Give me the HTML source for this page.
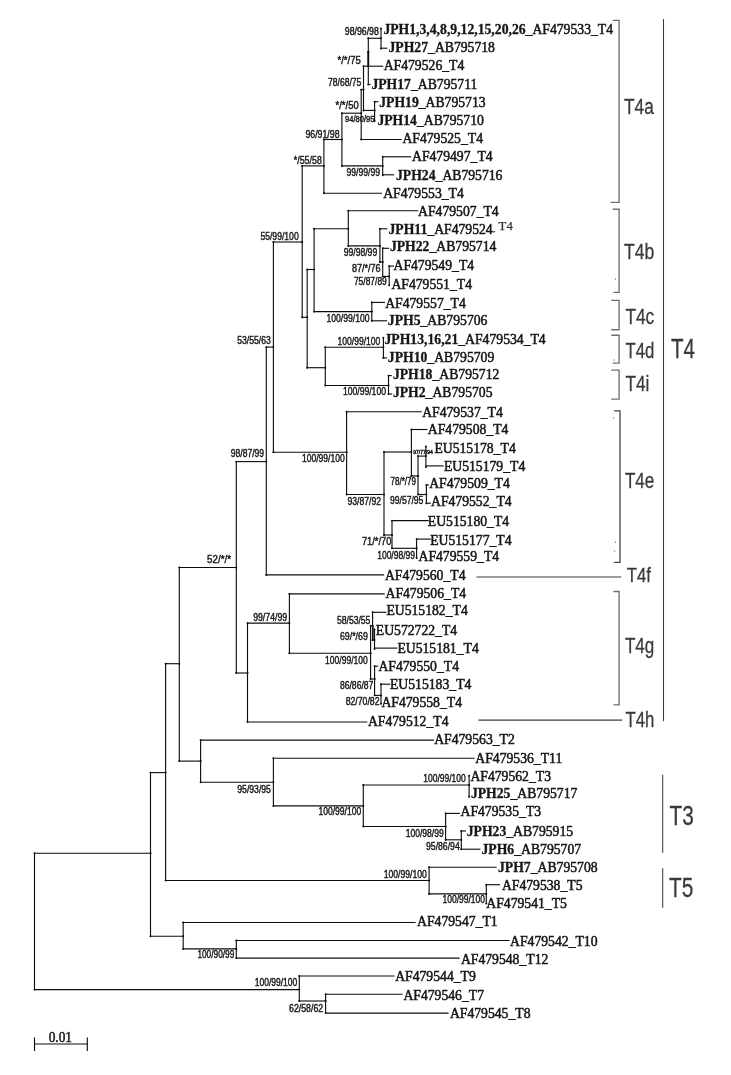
<!DOCTYPE html>
<html><head><meta charset="utf-8"><title>Phylogenetic tree</title>
<style>
html,body{margin:0;padding:0;background:#fff;overflow:hidden;}
svg{display:block;font-family:"Liberation Serif",serif;filter:grayscale(1);}
svg path{fill:none;stroke-linecap:square;}
svg text{stroke:#161616;stroke-width:0.5px;}
svg text tspan{stroke-width:0.3px;}
.b{font-family:"Liberation Sans",sans-serif;fill:#161616;stroke:#161616;stroke-width:0.4px;}
.c{font-family:"Liberation Sans",sans-serif;fill:#3a3a3a;stroke:#3a3a3a;stroke-width:0.3px;}
</style></head><body>
<svg width="731" height="1075" viewBox="0 0 731 1075">
<rect width="731" height="1075" fill="#fff"/>
<text x="383.4" y="34.1" font-size="13.7" fill="#161616"><tspan font-weight="bold">JPH1,3,4,8,9,12,15,20,26</tspan>_AF479533_T4</text>
<path d="M381.0 48.2H386.8" stroke="#0c0c0c" stroke-width="1.12"/>
<text x="388.5" y="52.1" font-size="13.7" fill="#161616"><tspan font-weight="bold">JPH27</tspan>_AB795718</text>
<path d="M363.5 66.2H382.7" stroke="#0c0c0c" stroke-width="1.12"/>
<text x="383.7" y="70.3" font-size="13.7" fill="#161616">AF479526_T4</text>
<path d="M368.3 84.4H370.0" stroke="#0c0c0c" stroke-width="1.12"/>
<text x="371.4" y="88.8" font-size="13.7" fill="#161616"><tspan font-weight="bold">JPH17</tspan>_AB795711</text>
<path d="M374.6 101.7H377.9" stroke="#0c0c0c" stroke-width="1.12"/>
<text x="379.2" y="107.1" font-size="13.7" fill="#161616"><tspan font-weight="bold">JPH19</tspan>_AB795713</text>
<text x="377.4" y="124.5" font-size="13.7" fill="#161616"><tspan font-weight="bold">JPH14</tspan>_AB795710</text>
<path d="M361.2 139.5H401.1" stroke="#0c0c0c" stroke-width="1.12"/>
<text x="402.4" y="142.7" font-size="13.7" fill="#161616">AF479525_T4</text>
<path d="M382.7 156.8H410.7" stroke="#0c0c0c" stroke-width="1.12"/>
<text x="412.0" y="161.1" font-size="13.7" fill="#161616">AF479497_T4</text>
<path d="M382.7 174.8H393.6" stroke="#0c0c0c" stroke-width="1.12"/>
<text x="396.0" y="180.1" font-size="13.7" fill="#161616"><tspan font-weight="bold">JPH24</tspan>_AB795716</text>
<path d="M323.9 193.2H381.4" stroke="#0c0c0c" stroke-width="1.12"/>
<text x="383.2" y="197.7" font-size="13.7" fill="#161616">AF479553_T4</text>
<path d="M348.3 210.7H417.6" stroke="#0c0c0c" stroke-width="1.12"/>
<text x="418.09999999999997" y="216.1" font-size="13.7" fill="#161616">AF479507_T4</text>
<path d="M379.9 228.8H386.8" stroke="#0c0c0c" stroke-width="1.12"/>
<text x="388.5" y="234.3" font-size="13.7" fill="#161616"><tspan font-weight="bold">JPH11</tspan>_AF479524</text>
<path d="M382.7 248.3H388.5" stroke="#0c0c0c" stroke-width="1.12"/>
<text x="389.9" y="251.3" font-size="13.7" fill="#161616"><tspan font-weight="bold">JPH22</tspan>_AB795714</text>
<path d="M389.2 266.1H393.6" stroke="#0c0c0c" stroke-width="1.12"/>
<text x="393.5" y="269.9" font-size="13.7" fill="#161616">AF479549_T4</text>
<text x="391.4" y="289.4" font-size="13.7" fill="#161616">AF479551_T4</text>
<path d="M371.8 302.4H384.4" stroke="#0c0c0c" stroke-width="1.12"/>
<text x="385.2" y="308.0" font-size="13.7" fill="#161616">AF479557_T4</text>
<path d="M371.8 320.8H386.5" stroke="#0c0c0c" stroke-width="1.12"/>
<text x="387.8" y="325.3" font-size="13.7" fill="#161616"><tspan font-weight="bold">JPH5</tspan>_AB795706</text>
<text x="384.5" y="343.6" font-size="13.7" fill="#161616"><tspan font-weight="bold">JPH13,16,21</tspan>_AF479534_T4</text>
<path d="M383.4 357.9H386.5" stroke="#0c0c0c" stroke-width="1.12"/>
<text x="387.8" y="361.7" font-size="13.7" fill="#161616"><tspan font-weight="bold">JPH10</tspan>_AB795709</text>
<path d="M388.5 375.6H391.2" stroke="#0c0c0c" stroke-width="1.12"/>
<text x="392.9" y="378.5" font-size="13.7" fill="#161616"><tspan font-weight="bold">JPH18</tspan>_AB795712</text>
<path d="M388.5 394.0H391.6" stroke="#0c0c0c" stroke-width="1.12"/>
<text x="392.9" y="397.3" font-size="13.7" fill="#161616"><tspan font-weight="bold">JPH2</tspan>_AB795705</text>
<path d="M346.6 411.7H421.2" stroke="#0c0c0c" stroke-width="1.12"/>
<text x="422.2" y="417.3" font-size="13.7" fill="#161616">AF479537_T4</text>
<path d="M411.4 429.5H426.9" stroke="#0c0c0c" stroke-width="1.12"/>
<text x="427.8" y="434.1" font-size="13.7" fill="#161616">AF479508_T4</text>
<text x="434.4" y="452.7" font-size="13.7" fill="#161616">EU515178_T4</text>
<path d="M425.9 465.9H443.1" stroke="#0c0c0c" stroke-width="1.12"/>
<text x="443.9" y="470.8" font-size="13.7" fill="#161616">EU515179_T4</text>
<path d="M426.4 485.0H428.4" stroke="#0c0c0c" stroke-width="1.12"/>
<text x="429.2" y="488.0" font-size="13.7" fill="#161616">AF479509_T4</text>
<path d="M426.4 503.2H430.3" stroke="#0c0c0c" stroke-width="1.12"/>
<text x="431.0" y="506.2" font-size="13.7" fill="#161616">AF479552_T4</text>
<path d="M392.0 520.6H428.2" stroke="#0c0c0c" stroke-width="1.12"/>
<text x="427.8" y="526.4" font-size="13.7" fill="#161616">EU515180_T4</text>
<path d="M416.6 539.1H430.3" stroke="#0c0c0c" stroke-width="1.12"/>
<text x="430.2" y="544.5" font-size="13.7" fill="#161616">EU515177_T4</text>
<text x="418.5" y="561.4" font-size="13.7" fill="#161616">AF479559_T4</text>
<path d="M266.3 574.9H383.6" stroke="#0c0c0c" stroke-width="1.12"/>
<text x="384.9" y="580.1" font-size="13.7" fill="#161616">AF479560_T4</text>
<path d="M289.4 593.9H384.2" stroke="#0c0c0c" stroke-width="1.12"/>
<text x="385.5" y="598.2" font-size="13.7" fill="#161616">AF479506_T4</text>
<path d="M372.6 612.3H385.8" stroke="#0c0c0c" stroke-width="1.12"/>
<text x="386.4" y="615.4" font-size="13.7" fill="#161616">EU515182_T4</text>
<text x="375.8" y="635.0" font-size="13.7" fill="#161616">EU572722_T4</text>
<path d="M374.5 648.1H396.8" stroke="#0c0c0c" stroke-width="1.12"/>
<text x="397.4" y="653.1" font-size="13.7" fill="#161616">EU515181_T4</text>
<path d="M374.6 666.2H377.6" stroke="#0c0c0c" stroke-width="1.12"/>
<text x="378.4" y="670.8" font-size="13.7" fill="#161616">AF479550_T4</text>
<path d="M381.0 684.2H389.8" stroke="#0c0c0c" stroke-width="1.12"/>
<text x="390.0" y="689.0" font-size="13.7" fill="#161616">EU515183_T4</text>
<text x="381.4" y="707.3" font-size="13.7" fill="#161616">AF479558_T4</text>
<path d="M247.5 722.0H366.7" stroke="#0c0c0c" stroke-width="1.12"/>
<text x="367.9" y="725.6" font-size="13.7" fill="#161616">AF479512_T4</text>
<path d="M200.6 740.1H433.5" stroke="#0c0c0c" stroke-width="1.12"/>
<text x="434.2" y="744.2" font-size="13.7" fill="#161616">AF479563_T2</text>
<path d="M273.4 758.3H474.0" stroke="#0c0c0c" stroke-width="1.12"/>
<text x="475.3" y="762.6" font-size="13.7" fill="#161616">AF479536_T11</text>
<text x="470.4" y="780.6" font-size="13.7" fill="#161616">AF479562_T3</text>
<text x="470.9" y="798.0" font-size="13.7" fill="#161616"><tspan font-weight="bold">JPH25</tspan>_AB795717</text>
<path d="M445.6 813.4H459.3" stroke="#0c0c0c" stroke-width="1.12"/>
<text x="460.5" y="816.4" font-size="13.7" fill="#161616">AF479535_T3</text>
<path d="M461.3 831.0H465.4" stroke="#0c0c0c" stroke-width="1.12"/>
<text x="466.7" y="835.9" font-size="13.7" fill="#161616"><tspan font-weight="bold">JPH23</tspan>_AB795915</text>
<path d="M461.3 849.2H479.8" stroke="#0c0c0c" stroke-width="1.12"/>
<text x="481.5" y="854.4" font-size="13.7" fill="#161616"><tspan font-weight="bold">JPH6</tspan>_AB795707</text>
<path d="M429.1 867.2H496.0" stroke="#0c0c0c" stroke-width="1.12"/>
<text x="498.0" y="871.8" font-size="13.7" fill="#161616"><tspan font-weight="bold">JPH7</tspan>_AB795708</text>
<path d="M486.3 884.7H499.4" stroke="#0c0c0c" stroke-width="1.12"/>
<text x="501.9" y="890.2" font-size="13.7" fill="#161616">AF479538_T5</text>
<text x="486.3" y="908.4" font-size="13.7" fill="#161616">AF479541_T5</text>
<path d="M183.2 922.5H415.1" stroke="#0c0c0c" stroke-width="1.12"/>
<text x="417.09999999999997" y="925.9" font-size="13.7" fill="#161616">AF479547_T1</text>
<path d="M236.3 940.5H509.0" stroke="#0c0c0c" stroke-width="1.12"/>
<text x="510.09999999999997" y="945.7" font-size="13.7" fill="#161616">AF479542_T10</text>
<path d="M236.3 958.1H459.0" stroke="#0c0c0c" stroke-width="1.12"/>
<text x="460.9" y="963.8" font-size="13.7" fill="#161616">AF479548_T12</text>
<path d="M299.3 976.0H394.0" stroke="#0c0c0c" stroke-width="1.12"/>
<text x="395.2" y="981.0" font-size="13.7" fill="#161616">AF479544_T9</text>
<path d="M325.6 994.2H402.0" stroke="#0c0c0c" stroke-width="1.12"/>
<text x="403.4" y="999.6" font-size="13.7" fill="#161616">AF479546_T7</text>
<path d="M325.6 1013.1H448.0" stroke="#0c0c0c" stroke-width="1.12"/>
<text x="449.9" y="1017.8" font-size="13.7" fill="#161616">AF479545_T8</text>
<text x="498.6" y="230.1" font-size="12.8" fill="#303030" style="stroke:#303030;stroke-width:0.25px">T4</text>
<path d="M490.8 231.8H494.8" stroke="#333" stroke-width="1.0"/>
<path d="M381.0 28.5V48.6" stroke="#0c0c0c" stroke-width="1.12"/>
<path d="M368.3 38.3H381.0" stroke="#0c0c0c" stroke-width="1.12"/>
<circle cx="381" cy="38.3" r="1.0" fill="#0c0c0c"/>
<circle cx="381" cy="48.6" r="0.95" fill="#0c0c0c"/>
<circle cx="381" cy="28.5" r="0.95" fill="#0c0c0c"/>
<path d="M368.3 38.3V84.6" stroke="#0c0c0c" stroke-width="1.12"/>
<circle cx="368.3" cy="84.6" r="0.95" fill="#0c0c0c"/>
<circle cx="368.3" cy="38.3" r="0.95" fill="#0c0c0c"/>
<path d="M363.5 66.2V110.6" stroke="#0c0c0c" stroke-width="1.12"/>
<path d="M361.2 89.6H363.5" stroke="#0c0c0c" stroke-width="1.12"/>
<circle cx="363.5" cy="89.6" r="1.0" fill="#0c0c0c"/>
<circle cx="363.5" cy="110.6" r="0.95" fill="#0c0c0c"/>
<circle cx="363.5" cy="66.2" r="0.95" fill="#0c0c0c"/>
<path d="M374.6 101.7V121.0" stroke="#0c0c0c" stroke-width="1.12"/>
<path d="M363.5 110.4H374.6" stroke="#0c0c0c" stroke-width="1.12"/>
<circle cx="374.6" cy="110.4" r="1.0" fill="#0c0c0c"/>
<circle cx="374.6" cy="121.0" r="0.95" fill="#0c0c0c"/>
<circle cx="374.6" cy="101.7" r="0.95" fill="#0c0c0c"/>
<path d="M361.2 89.6V139.5" stroke="#0c0c0c" stroke-width="1.12"/>
<path d="M341.9 113.2H361.2" stroke="#0c0c0c" stroke-width="1.12"/>
<circle cx="361.2" cy="113.2" r="1.0" fill="#0c0c0c"/>
<circle cx="361.2" cy="139.5" r="0.95" fill="#0c0c0c"/>
<circle cx="361.2" cy="89.6" r="0.95" fill="#0c0c0c"/>
<path d="M382.7 156.8V175.3" stroke="#0c0c0c" stroke-width="1.12"/>
<path d="M341.9 165.9H382.7" stroke="#0c0c0c" stroke-width="1.12"/>
<circle cx="382.7" cy="165.9" r="1.0" fill="#0c0c0c"/>
<circle cx="382.7" cy="175.3" r="0.95" fill="#0c0c0c"/>
<circle cx="382.7" cy="156.8" r="0.95" fill="#0c0c0c"/>
<path d="M341.9 113.2V165.9" stroke="#0c0c0c" stroke-width="1.12"/>
<path d="M323.9 139.5H341.9" stroke="#0c0c0c" stroke-width="1.12"/>
<circle cx="341.9" cy="139.5" r="1.0" fill="#0c0c0c"/>
<circle cx="341.9" cy="165.9" r="0.95" fill="#0c0c0c"/>
<circle cx="341.9" cy="113.2" r="0.95" fill="#0c0c0c"/>
<path d="M323.9 139.5V193.2" stroke="#0c0c0c" stroke-width="1.12"/>
<path d="M302.2 165.9H323.9" stroke="#0c0c0c" stroke-width="1.12"/>
<circle cx="323.9" cy="165.9" r="1.0" fill="#0c0c0c"/>
<circle cx="323.9" cy="193.2" r="0.95" fill="#0c0c0c"/>
<circle cx="323.9" cy="139.5" r="0.95" fill="#0c0c0c"/>
<path d="M389.2 266.1V285.3" stroke="#0c0c0c" stroke-width="1.12"/>
<path d="M382.7 276.4H389.2" stroke="#0c0c0c" stroke-width="1.12"/>
<circle cx="389.2" cy="276.4" r="1.0" fill="#0c0c0c"/>
<circle cx="389.2" cy="285.3" r="0.95" fill="#0c0c0c"/>
<circle cx="389.2" cy="266.1" r="0.95" fill="#0c0c0c"/>
<path d="M382.7 248.3V276.4" stroke="#0c0c0c" stroke-width="1.12"/>
<path d="M379.9 262.0H382.7" stroke="#0c0c0c" stroke-width="1.12"/>
<circle cx="382.7" cy="262.0" r="1.0" fill="#0c0c0c"/>
<circle cx="382.7" cy="276.4" r="0.95" fill="#0c0c0c"/>
<circle cx="382.7" cy="248.3" r="0.95" fill="#0c0c0c"/>
<path d="M379.9 228.8V262.0" stroke="#0c0c0c" stroke-width="1.12"/>
<path d="M348.3 245.9H379.9" stroke="#0c0c0c" stroke-width="1.12"/>
<circle cx="379.9" cy="245.9" r="1.0" fill="#0c0c0c"/>
<circle cx="379.9" cy="262.0" r="0.95" fill="#0c0c0c"/>
<circle cx="379.9" cy="228.8" r="0.95" fill="#0c0c0c"/>
<path d="M348.3 210.7V245.9" stroke="#0c0c0c" stroke-width="1.12"/>
<path d="M314.1 228.8H348.3" stroke="#0c0c0c" stroke-width="1.12"/>
<circle cx="348.3" cy="228.8" r="1.0" fill="#0c0c0c"/>
<circle cx="348.3" cy="245.9" r="0.95" fill="#0c0c0c"/>
<circle cx="348.3" cy="210.7" r="0.95" fill="#0c0c0c"/>
<path d="M371.8 302.4V320.8" stroke="#0c0c0c" stroke-width="1.12"/>
<path d="M314.1 311.6H371.8" stroke="#0c0c0c" stroke-width="1.12"/>
<circle cx="371.8" cy="311.6" r="1.0" fill="#0c0c0c"/>
<circle cx="371.8" cy="320.8" r="0.95" fill="#0c0c0c"/>
<circle cx="371.8" cy="302.4" r="0.95" fill="#0c0c0c"/>
<path d="M314.1 228.8V311.6" stroke="#0c0c0c" stroke-width="1.12"/>
<path d="M307.2 269.5H314.1" stroke="#0c0c0c" stroke-width="1.12"/>
<circle cx="314.1" cy="269.5" r="1.0" fill="#0c0c0c"/>
<circle cx="314.1" cy="311.6" r="0.95" fill="#0c0c0c"/>
<circle cx="314.1" cy="228.8" r="0.95" fill="#0c0c0c"/>
<path d="M383.4 337.7V357.9" stroke="#0c0c0c" stroke-width="1.12"/>
<path d="M325.3 347.2H383.4" stroke="#0c0c0c" stroke-width="1.12"/>
<circle cx="383.4" cy="347.2" r="1.0" fill="#0c0c0c"/>
<circle cx="383.4" cy="357.9" r="0.95" fill="#0c0c0c"/>
<circle cx="383.4" cy="337.7" r="0.95" fill="#0c0c0c"/>
<path d="M388.5 375.6V394.0" stroke="#0c0c0c" stroke-width="1.12"/>
<path d="M325.3 385.5H388.5" stroke="#0c0c0c" stroke-width="1.12"/>
<circle cx="388.5" cy="385.5" r="1.0" fill="#0c0c0c"/>
<circle cx="388.5" cy="394.0" r="0.95" fill="#0c0c0c"/>
<circle cx="388.5" cy="375.6" r="0.95" fill="#0c0c0c"/>
<path d="M325.3 347.2V385.5" stroke="#0c0c0c" stroke-width="1.12"/>
<path d="M307.2 367.7H325.3" stroke="#0c0c0c" stroke-width="1.12"/>
<circle cx="325.3" cy="367.7" r="1.0" fill="#0c0c0c"/>
<circle cx="325.3" cy="385.5" r="0.95" fill="#0c0c0c"/>
<circle cx="325.3" cy="347.2" r="0.95" fill="#0c0c0c"/>
<path d="M307.2 269.5V367.7" stroke="#0c0c0c" stroke-width="1.12"/>
<path d="M302.2 317.3H307.2" stroke="#0c0c0c" stroke-width="1.12"/>
<circle cx="307.2" cy="317.3" r="1.0" fill="#0c0c0c"/>
<circle cx="307.2" cy="367.7" r="0.95" fill="#0c0c0c"/>
<circle cx="307.2" cy="269.5" r="0.95" fill="#0c0c0c"/>
<path d="M302.2 165.9V317.3" stroke="#0c0c0c" stroke-width="1.12"/>
<path d="M273.4 242.0H302.2" stroke="#0c0c0c" stroke-width="1.12"/>
<circle cx="302.2" cy="242.0" r="1.0" fill="#0c0c0c"/>
<circle cx="302.2" cy="317.3" r="0.95" fill="#0c0c0c"/>
<circle cx="302.2" cy="165.9" r="0.95" fill="#0c0c0c"/>
<path d="M425.9 446.5V467.0" stroke="#0c0c0c" stroke-width="1.12"/>
<path d="M418.0 456.1H425.9" stroke="#0c0c0c" stroke-width="1.12"/>
<circle cx="425.9" cy="456.1" r="1.0" fill="#0c0c0c"/>
<circle cx="425.9" cy="467.0" r="0.95" fill="#0c0c0c"/>
<circle cx="425.9" cy="446.5" r="0.95" fill="#0c0c0c"/>
<path d="M426.4 485.0V503.4" stroke="#0c0c0c" stroke-width="1.12"/>
<path d="M418.0 494.5H426.4" stroke="#0c0c0c" stroke-width="1.12"/>
<circle cx="426.4" cy="494.5" r="1.0" fill="#0c0c0c"/>
<circle cx="426.4" cy="503.4" r="0.95" fill="#0c0c0c"/>
<circle cx="426.4" cy="485.0" r="0.95" fill="#0c0c0c"/>
<path d="M418.0 456.1V494.5" stroke="#0c0c0c" stroke-width="1.12"/>
<path d="M411.4 475.9H418.0" stroke="#0c0c0c" stroke-width="1.12"/>
<circle cx="418" cy="475.9" r="1.0" fill="#0c0c0c"/>
<circle cx="418" cy="494.5" r="0.95" fill="#0c0c0c"/>
<circle cx="418" cy="456.1" r="0.95" fill="#0c0c0c"/>
<path d="M411.4 429.5V475.9" stroke="#0c0c0c" stroke-width="1.12"/>
<path d="M384.0 452.0H411.4" stroke="#0c0c0c" stroke-width="1.12"/>
<circle cx="411.4" cy="452.0" r="1.0" fill="#0c0c0c"/>
<circle cx="411.4" cy="475.9" r="0.95" fill="#0c0c0c"/>
<circle cx="411.4" cy="429.5" r="0.95" fill="#0c0c0c"/>
<path d="M416.6 539.1V558.0" stroke="#0c0c0c" stroke-width="1.12"/>
<path d="M392.0 548.3H416.6" stroke="#0c0c0c" stroke-width="1.12"/>
<circle cx="416.6" cy="548.3" r="1.0" fill="#0c0c0c"/>
<circle cx="416.6" cy="558.0" r="0.95" fill="#0c0c0c"/>
<circle cx="416.6" cy="539.1" r="0.95" fill="#0c0c0c"/>
<path d="M392.0 520.6V548.3" stroke="#0c0c0c" stroke-width="1.12"/>
<path d="M384.0 535.0H392.0" stroke="#0c0c0c" stroke-width="1.12"/>
<circle cx="392" cy="535.0" r="1.0" fill="#0c0c0c"/>
<circle cx="392" cy="548.3" r="0.95" fill="#0c0c0c"/>
<circle cx="392" cy="520.6" r="0.95" fill="#0c0c0c"/>
<path d="M384.0 452.0V535.0" stroke="#0c0c0c" stroke-width="1.12"/>
<path d="M346.6 494.5H384.0" stroke="#0c0c0c" stroke-width="1.12"/>
<circle cx="384" cy="494.5" r="1.0" fill="#0c0c0c"/>
<circle cx="384" cy="535.0" r="0.95" fill="#0c0c0c"/>
<circle cx="384" cy="452.0" r="0.95" fill="#0c0c0c"/>
<path d="M346.6 411.7V494.5" stroke="#0c0c0c" stroke-width="1.12"/>
<path d="M273.4 452.3H346.6" stroke="#0c0c0c" stroke-width="1.12"/>
<circle cx="346.6" cy="452.3" r="1.0" fill="#0c0c0c"/>
<circle cx="346.6" cy="494.5" r="0.95" fill="#0c0c0c"/>
<circle cx="346.6" cy="411.7" r="0.95" fill="#0c0c0c"/>
<path d="M273.4 242.0V452.3" stroke="#0c0c0c" stroke-width="1.12"/>
<path d="M266.3 347.1H273.4" stroke="#0c0c0c" stroke-width="1.12"/>
<circle cx="273.4" cy="347.1" r="1.0" fill="#0c0c0c"/>
<circle cx="273.4" cy="452.3" r="0.95" fill="#0c0c0c"/>
<circle cx="273.4" cy="242.0" r="0.95" fill="#0c0c0c"/>
<path d="M266.3 347.1V574.9" stroke="#0c0c0c" stroke-width="1.12"/>
<path d="M236.3 461.6H266.3" stroke="#0c0c0c" stroke-width="1.12"/>
<circle cx="266.3" cy="461.6" r="1.0" fill="#0c0c0c"/>
<circle cx="266.3" cy="574.9" r="0.95" fill="#0c0c0c"/>
<circle cx="266.3" cy="347.1" r="0.95" fill="#0c0c0c"/>
<path d="M374.5 629.5V649.0" stroke="#0c0c0c" stroke-width="1.12"/>
<path d="M372.6 640.0H374.5" stroke="#0c0c0c" stroke-width="1.12"/>
<circle cx="374.5" cy="640.0" r="1.0" fill="#0c0c0c"/>
<circle cx="374.5" cy="649.0" r="0.95" fill="#0c0c0c"/>
<circle cx="374.5" cy="629.5" r="0.95" fill="#0c0c0c"/>
<path d="M372.6 612.3V640.0" stroke="#0c0c0c" stroke-width="1.12"/>
<path d="M370.6 625.7H372.6" stroke="#0c0c0c" stroke-width="1.12"/>
<circle cx="372.6" cy="625.7" r="1.0" fill="#0c0c0c"/>
<circle cx="372.6" cy="640.0" r="0.95" fill="#0c0c0c"/>
<circle cx="372.6" cy="612.3" r="0.95" fill="#0c0c0c"/>
<path d="M381.0 684.2V703.8" stroke="#0c0c0c" stroke-width="1.12"/>
<path d="M374.6 695.4H381.0" stroke="#0c0c0c" stroke-width="1.12"/>
<circle cx="381" cy="695.4" r="1.0" fill="#0c0c0c"/>
<circle cx="381" cy="703.8" r="0.95" fill="#0c0c0c"/>
<circle cx="381" cy="684.2" r="0.95" fill="#0c0c0c"/>
<path d="M374.6 666.2V695.4" stroke="#0c0c0c" stroke-width="1.12"/>
<path d="M370.6 679.0H374.6" stroke="#0c0c0c" stroke-width="1.12"/>
<circle cx="374.6" cy="679.0" r="1.0" fill="#0c0c0c"/>
<circle cx="374.6" cy="695.4" r="0.95" fill="#0c0c0c"/>
<circle cx="374.6" cy="666.2" r="0.95" fill="#0c0c0c"/>
<path d="M370.6 625.7V679.0" stroke="#0c0c0c" stroke-width="1.12"/>
<path d="M289.4 653.3H370.6" stroke="#0c0c0c" stroke-width="1.12"/>
<circle cx="370.6" cy="653.3" r="1.0" fill="#0c0c0c"/>
<circle cx="370.6" cy="679.0" r="0.95" fill="#0c0c0c"/>
<circle cx="370.6" cy="625.7" r="0.95" fill="#0c0c0c"/>
<path d="M289.4 593.9V653.3" stroke="#0c0c0c" stroke-width="1.12"/>
<path d="M247.5 623.1H289.4" stroke="#0c0c0c" stroke-width="1.12"/>
<circle cx="289.4" cy="623.1" r="1.0" fill="#0c0c0c"/>
<circle cx="289.4" cy="653.3" r="0.95" fill="#0c0c0c"/>
<circle cx="289.4" cy="593.9" r="0.95" fill="#0c0c0c"/>
<path d="M247.5 623.1V722.0" stroke="#0c0c0c" stroke-width="1.12"/>
<path d="M236.3 673.0H247.5" stroke="#0c0c0c" stroke-width="1.12"/>
<circle cx="247.5" cy="673.0" r="1.0" fill="#0c0c0c"/>
<circle cx="247.5" cy="722.0" r="0.95" fill="#0c0c0c"/>
<circle cx="247.5" cy="623.1" r="0.95" fill="#0c0c0c"/>
<path d="M236.3 461.6V673.0" stroke="#0c0c0c" stroke-width="1.12"/>
<path d="M179.3 567.5H236.3" stroke="#0c0c0c" stroke-width="1.12"/>
<circle cx="236.3" cy="567.5" r="1.0" fill="#0c0c0c"/>
<circle cx="236.3" cy="673.0" r="0.95" fill="#0c0c0c"/>
<circle cx="236.3" cy="461.6" r="0.95" fill="#0c0c0c"/>
<path d="M469.1 775.8V796.7" stroke="#0c0c0c" stroke-width="1.12"/>
<path d="M363.3 785.0H469.1" stroke="#0c0c0c" stroke-width="1.12"/>
<circle cx="469.1" cy="785.0" r="1.0" fill="#0c0c0c"/>
<circle cx="469.1" cy="796.7" r="0.95" fill="#0c0c0c"/>
<circle cx="469.1" cy="775.8" r="0.95" fill="#0c0c0c"/>
<path d="M461.3 831.0V849.2" stroke="#0c0c0c" stroke-width="1.12"/>
<path d="M445.6 839.8H461.3" stroke="#0c0c0c" stroke-width="1.12"/>
<circle cx="461.3" cy="839.8" r="1.0" fill="#0c0c0c"/>
<circle cx="461.3" cy="849.2" r="0.95" fill="#0c0c0c"/>
<circle cx="461.3" cy="831.0" r="0.95" fill="#0c0c0c"/>
<path d="M445.6 813.4V839.8" stroke="#0c0c0c" stroke-width="1.12"/>
<path d="M363.3 826.5H445.6" stroke="#0c0c0c" stroke-width="1.12"/>
<circle cx="445.6" cy="826.5" r="1.0" fill="#0c0c0c"/>
<circle cx="445.6" cy="839.8" r="0.95" fill="#0c0c0c"/>
<circle cx="445.6" cy="813.4" r="0.95" fill="#0c0c0c"/>
<path d="M363.3 785.0V826.5" stroke="#0c0c0c" stroke-width="1.12"/>
<path d="M273.4 805.9H363.3" stroke="#0c0c0c" stroke-width="1.12"/>
<circle cx="363.3" cy="805.9" r="1.0" fill="#0c0c0c"/>
<circle cx="363.3" cy="826.5" r="0.95" fill="#0c0c0c"/>
<circle cx="363.3" cy="785.0" r="0.95" fill="#0c0c0c"/>
<path d="M273.4 758.3V805.9" stroke="#0c0c0c" stroke-width="1.12"/>
<path d="M200.6 782.2H273.4" stroke="#0c0c0c" stroke-width="1.12"/>
<circle cx="273.4" cy="782.2" r="1.0" fill="#0c0c0c"/>
<circle cx="273.4" cy="805.9" r="0.95" fill="#0c0c0c"/>
<circle cx="273.4" cy="758.3" r="0.95" fill="#0c0c0c"/>
<path d="M200.6 740.1V782.2" stroke="#0c0c0c" stroke-width="1.12"/>
<path d="M179.3 761.1H200.6" stroke="#0c0c0c" stroke-width="1.12"/>
<circle cx="200.6" cy="761.1" r="1.0" fill="#0c0c0c"/>
<circle cx="200.6" cy="782.2" r="0.95" fill="#0c0c0c"/>
<circle cx="200.6" cy="740.1" r="0.95" fill="#0c0c0c"/>
<path d="M179.3 567.5V761.1" stroke="#0c0c0c" stroke-width="1.12"/>
<path d="M165.6 663.7H179.3" stroke="#0c0c0c" stroke-width="1.12"/>
<circle cx="179.3" cy="663.7" r="1.0" fill="#0c0c0c"/>
<circle cx="179.3" cy="761.1" r="0.95" fill="#0c0c0c"/>
<circle cx="179.3" cy="567.5" r="0.95" fill="#0c0c0c"/>
<path d="M486.3 884.7V903.6" stroke="#0c0c0c" stroke-width="1.12"/>
<path d="M429.1 893.9H486.3" stroke="#0c0c0c" stroke-width="1.12"/>
<circle cx="486.3" cy="893.9" r="1.0" fill="#0c0c0c"/>
<circle cx="486.3" cy="903.6" r="0.95" fill="#0c0c0c"/>
<circle cx="486.3" cy="884.7" r="0.95" fill="#0c0c0c"/>
<path d="M429.1 867.2V893.9" stroke="#0c0c0c" stroke-width="1.12"/>
<path d="M165.6 880.5H429.1" stroke="#0c0c0c" stroke-width="1.12"/>
<circle cx="429.1" cy="880.5" r="1.0" fill="#0c0c0c"/>
<circle cx="429.1" cy="893.9" r="0.95" fill="#0c0c0c"/>
<circle cx="429.1" cy="867.2" r="0.95" fill="#0c0c0c"/>
<path d="M165.6 663.7V880.5" stroke="#0c0c0c" stroke-width="1.12"/>
<path d="M150.5 772.6H165.6" stroke="#0c0c0c" stroke-width="1.12"/>
<circle cx="165.6" cy="772.6" r="1.0" fill="#0c0c0c"/>
<circle cx="165.6" cy="880.5" r="0.95" fill="#0c0c0c"/>
<circle cx="165.6" cy="663.7" r="0.95" fill="#0c0c0c"/>
<path d="M236.3 940.5V958.1" stroke="#0c0c0c" stroke-width="1.12"/>
<path d="M183.2 948.9H236.3" stroke="#0c0c0c" stroke-width="1.12"/>
<circle cx="236.3" cy="948.9" r="1.0" fill="#0c0c0c"/>
<circle cx="236.3" cy="958.1" r="0.95" fill="#0c0c0c"/>
<circle cx="236.3" cy="940.5" r="0.95" fill="#0c0c0c"/>
<path d="M183.2 922.5V948.9" stroke="#0c0c0c" stroke-width="1.12"/>
<path d="M150.5 936.2H183.2" stroke="#0c0c0c" stroke-width="1.12"/>
<circle cx="183.2" cy="936.2" r="1.0" fill="#0c0c0c"/>
<circle cx="183.2" cy="948.9" r="0.95" fill="#0c0c0c"/>
<circle cx="183.2" cy="922.5" r="0.95" fill="#0c0c0c"/>
<path d="M150.5 772.6V936.2" stroke="#0c0c0c" stroke-width="1.12"/>
<path d="M34.5 853.3H150.5" stroke="#0c0c0c" stroke-width="1.12"/>
<circle cx="150.5" cy="853.3" r="1.0" fill="#0c0c0c"/>
<circle cx="150.5" cy="936.2" r="0.95" fill="#0c0c0c"/>
<circle cx="150.5" cy="772.6" r="0.95" fill="#0c0c0c"/>
<path d="M325.6 994.2V1013.1" stroke="#0c0c0c" stroke-width="1.12"/>
<path d="M299.3 1001.0H325.6" stroke="#0c0c0c" stroke-width="1.12"/>
<circle cx="325.6" cy="1001.0" r="1.0" fill="#0c0c0c"/>
<circle cx="325.6" cy="1013.1" r="0.95" fill="#0c0c0c"/>
<circle cx="325.6" cy="994.2" r="0.95" fill="#0c0c0c"/>
<path d="M299.3 976.0V1001.0" stroke="#0c0c0c" stroke-width="1.12"/>
<path d="M34.5 989.6H299.3" stroke="#0c0c0c" stroke-width="1.12"/>
<circle cx="299.3" cy="989.6" r="1.0" fill="#0c0c0c"/>
<circle cx="299.3" cy="1001.0" r="0.95" fill="#0c0c0c"/>
<circle cx="299.3" cy="976.0" r="0.95" fill="#0c0c0c"/>
<path d="M34.5 853.3V989.6" stroke="#0c0c0c" stroke-width="1.12"/>
<circle cx="34.5" cy="989.6" r="0.95" fill="#0c0c0c"/>
<circle cx="34.5" cy="853.3" r="0.95" fill="#0c0c0c"/>
<path d="M368.3 52.0V66.2" stroke="#0c0c0c" stroke-width="1.8"/>
<path d="M373.5 625.7V640.0" stroke="#0c0c0c" stroke-width="0.6"/>
<circle cx="368.3" cy="52" r="1.1" fill="#0c0c0c"/>
<text class="b" x="344.8" y="35.0" font-size="10" textLength="34.0" lengthAdjust="spacingAndGlyphs">98/96/98</text>
<text class="b" x="337.5" y="63.6" font-size="10" textLength="23.3" lengthAdjust="spacingAndGlyphs">*/*/75</text>
<text class="b" x="328.0" y="86.4" font-size="10" textLength="33.3" lengthAdjust="spacingAndGlyphs">78/68/75</text>
<text class="b" x="335.5" y="109.4" font-size="10" textLength="23.2" lengthAdjust="spacingAndGlyphs">*/*/50</text>
<text class="b" x="345" y="121.7" font-size="8.6" textLength="29.5" lengthAdjust="spacingAndGlyphs">94/80/95</text>
<text class="b" x="305.4" y="138.0" font-size="10" textLength="34.2" lengthAdjust="spacingAndGlyphs">96/91/98</text>
<text class="b" x="293.8" y="164.1" font-size="10" textLength="28.0" lengthAdjust="spacingAndGlyphs">*/55/58</text>
<text class="b" x="346.4" y="175.7" font-size="10" textLength="33.6" lengthAdjust="spacingAndGlyphs">99/99/99</text>
<text class="b" x="260.4" y="240" font-size="10" textLength="38.3" lengthAdjust="spacingAndGlyphs">55/99/100</text>
<text class="b" x="343.7" y="255.9" font-size="10" textLength="33.5" lengthAdjust="spacingAndGlyphs">99/98/99</text>
<text class="b" x="351.9" y="271.5" font-size="10" textLength="28.7" lengthAdjust="spacingAndGlyphs">87/*/76</text>
<text class="b" x="353.9" y="284.6" font-size="10" textLength="32.9" lengthAdjust="spacingAndGlyphs">75/87/89</text>
<text class="b" x="326.5" y="321.5" font-size="10" textLength="43.1" lengthAdjust="spacingAndGlyphs">100/99/100</text>
<text class="b" x="337.6" y="345.1" font-size="10" textLength="42.7" lengthAdjust="spacingAndGlyphs">100/99/100</text>
<text class="b" x="237.3" y="343.6" font-size="10" textLength="33.5" lengthAdjust="spacingAndGlyphs">53/55/63</text>
<text class="b" x="342.9" y="394.8" font-size="10" textLength="43.1" lengthAdjust="spacingAndGlyphs">100/99/100</text>
<text class="b" x="230.8" y="457.1" font-size="10" textLength="33.2" lengthAdjust="spacingAndGlyphs">98/87/99</text>
<text class="b" x="302" y="462" font-size="10" textLength="42.7" lengthAdjust="spacingAndGlyphs">100/99/100</text>
<text class="b" x="413.2" y="453.9" font-size="5.3" textLength="19.7" lengthAdjust="spacingAndGlyphs">97/77/94</text>
<text class="b" x="390.6" y="485.4" font-size="10" textLength="25.3" lengthAdjust="spacingAndGlyphs">78/*/79</text>
<text class="b" x="390" y="503.5" font-size="10" textLength="33.4" lengthAdjust="spacingAndGlyphs">99/57/95</text>
<text class="b" x="347.5" y="505.3" font-size="10" textLength="33.5" lengthAdjust="spacingAndGlyphs">93/87/92</text>
<text class="b" x="361.9" y="544.6" font-size="10" textLength="29.4" lengthAdjust="spacingAndGlyphs">71/*/70</text>
<text class="b" x="377.2" y="558.9" font-size="10" textLength="37.8" lengthAdjust="spacingAndGlyphs">100/98/99</text>
<text class="b" x="207" y="563" font-size="10" textLength="24.1" lengthAdjust="spacingAndGlyphs">52/*/*</text>
<text class="b" x="253.2" y="620.6" font-size="10" textLength="33.9" lengthAdjust="spacingAndGlyphs">99/74/99</text>
<text class="b" x="337" y="623.6" font-size="10" textLength="33.3" lengthAdjust="spacingAndGlyphs">58/53/55</text>
<text class="b" x="339.9" y="640.4" font-size="10" textLength="27.9" lengthAdjust="spacingAndGlyphs">69/*/69</text>
<text class="b" x="325.1" y="664.2" font-size="10" textLength="42.7" lengthAdjust="spacingAndGlyphs">100/99/100</text>
<text class="b" x="339.9" y="688.9" font-size="10" textLength="33.5" lengthAdjust="spacingAndGlyphs">86/86/87</text>
<text class="b" x="345.7" y="704.7" font-size="10" textLength="33.8" lengthAdjust="spacingAndGlyphs">82/70/82</text>
<text class="b" x="237.3" y="793.4" font-size="10" textLength="33.6" lengthAdjust="spacingAndGlyphs">95/93/95</text>
<text class="b" x="423.3" y="782.3" font-size="10" textLength="42.5" lengthAdjust="spacingAndGlyphs">100/99/100</text>
<text class="b" x="318.5" y="815.4" font-size="10" textLength="42.7" lengthAdjust="spacingAndGlyphs">100/99/100</text>
<text class="b" x="405.7" y="836.6" font-size="10" textLength="38.0" lengthAdjust="spacingAndGlyphs">100/98/99</text>
<text class="b" x="426" y="849.6" font-size="10" textLength="33.7" lengthAdjust="spacingAndGlyphs">95/86/94</text>
<text class="b" x="383.7" y="878.2" font-size="10" textLength="43.2" lengthAdjust="spacingAndGlyphs">100/99/100</text>
<text class="b" x="442.5" y="902.8" font-size="10" textLength="42.4" lengthAdjust="spacingAndGlyphs">100/99/100</text>
<text class="b" x="197.4" y="957.5" font-size="10" textLength="36.9" lengthAdjust="spacingAndGlyphs">100/90/99</text>
<text class="b" x="254.8" y="986.2" font-size="10" textLength="42.4" lengthAdjust="spacingAndGlyphs">100/99/100</text>
<text class="b" x="289" y="1012.2" font-size="10" textLength="34.2" lengthAdjust="spacingAndGlyphs">62/58/62</text>
<path d="M613.3 20.4H619.1V202.3H611.3" stroke="#707070" stroke-width="1.35" fill="none"/>
<path d="M613.3 209.2H619.1V292.3H614.1" stroke="#707070" stroke-width="1.35" fill="none"/>
<path d="M611.9 300.4H619.1V329.7H611.9" stroke="#707070" stroke-width="1.35" fill="none"/>
<path d="M611.9 335.2H619.1V363.1H613.3" stroke="#707070" stroke-width="1.35" fill="none"/>
<path d="M611.9 370.1H619.1V399.1H611.9" stroke="#707070" stroke-width="1.35" fill="none"/>
<path d="M614.7 410.8H620.0V562.3H614.7" stroke="#4a4a4a" stroke-width="1.35" fill="none"/>
<path d="M614.1 591.5H619.1V704.8H614.1" stroke="#707070" stroke-width="1.35" fill="none"/>
<path d="M477.0 577.0H620.6" stroke="#3c3c3c" stroke-width="1.2"/>
<path d="M479.0 720.2H621.7" stroke="#3c3c3c" stroke-width="1.2"/>
<path d="M663.5 19.5V720.7" stroke="#3a3a3a" stroke-width="1.05"/>
<path d="M662.7 775.3V852.1" stroke="#3a3a3a" stroke-width="1.05"/>
<path d="M662.7 868.8V907.3" stroke="#3a3a3a" stroke-width="1.05"/>
<rect x="615.0" y="278.5" width="1" height="1" fill="#444"/>
<rect x="613.6" y="359.5" width="1" height="1" fill="#444"/>
<rect x="613.1" y="417.3" width="1" height="1" fill="#444"/>
<rect x="615.0" y="541.7" width="1" height="1" fill="#444"/>
<rect x="614.2" y="550.6" width="1" height="1" fill="#444"/>
<text class="c" x="624.0" y="113.8" font-size="22.5" textLength="29.8" lengthAdjust="spacingAndGlyphs">T4a</text>
<text class="c" x="624.0" y="259.4" font-size="22.5" textLength="30.3" lengthAdjust="spacingAndGlyphs">T4b</text>
<text class="c" x="625.4" y="324.1" font-size="22.5" textLength="28.9" lengthAdjust="spacingAndGlyphs">T4c</text>
<text class="c" x="625.4" y="357.5" font-size="22.5" textLength="28.9" lengthAdjust="spacingAndGlyphs">T4d</text>
<text class="c" x="625.4" y="390.7" font-size="22.5" textLength="23.9" lengthAdjust="spacingAndGlyphs">T4i</text>
<text class="c" x="624.9" y="487.8" font-size="22.5" textLength="29.4" lengthAdjust="spacingAndGlyphs">T4e</text>
<text class="c" x="626.8" y="582.1" font-size="20.5" textLength="24.2" lengthAdjust="spacingAndGlyphs">T4f</text>
<text class="c" x="624.9" y="653.2" font-size="22.5" textLength="29.4" lengthAdjust="spacingAndGlyphs">T4g</text>
<text class="c" x="625.4" y="727.1" font-size="21.5" textLength="28.9" lengthAdjust="spacingAndGlyphs">T4h</text>
<text class="c" x="670.9" y="358.4" font-size="27.0" textLength="24.0" lengthAdjust="spacingAndGlyphs">T4</text>
<text class="c" x="669.5" y="824.5" font-size="27.3" textLength="24.3" lengthAdjust="spacingAndGlyphs">T3</text>
<text class="c" x="669.1" y="896.7" font-size="27.3" textLength="24.3" lengthAdjust="spacingAndGlyphs">T5</text>
<path d="M34.5 1044.0H87.3" stroke="#0c0c0c" stroke-width="1.12"/>
<path d="M34.5 1038.0V1050.5" stroke="#0c0c0c" stroke-width="1.12"/>
<path d="M87.3 1038.0V1050.5" stroke="#0c0c0c" stroke-width="1.12"/>
<text x="48.7" y="1042" font-size="14" fill="#161616" textLength="23.3" lengthAdjust="spacingAndGlyphs">0.01</text>
</svg>
</body></html>
